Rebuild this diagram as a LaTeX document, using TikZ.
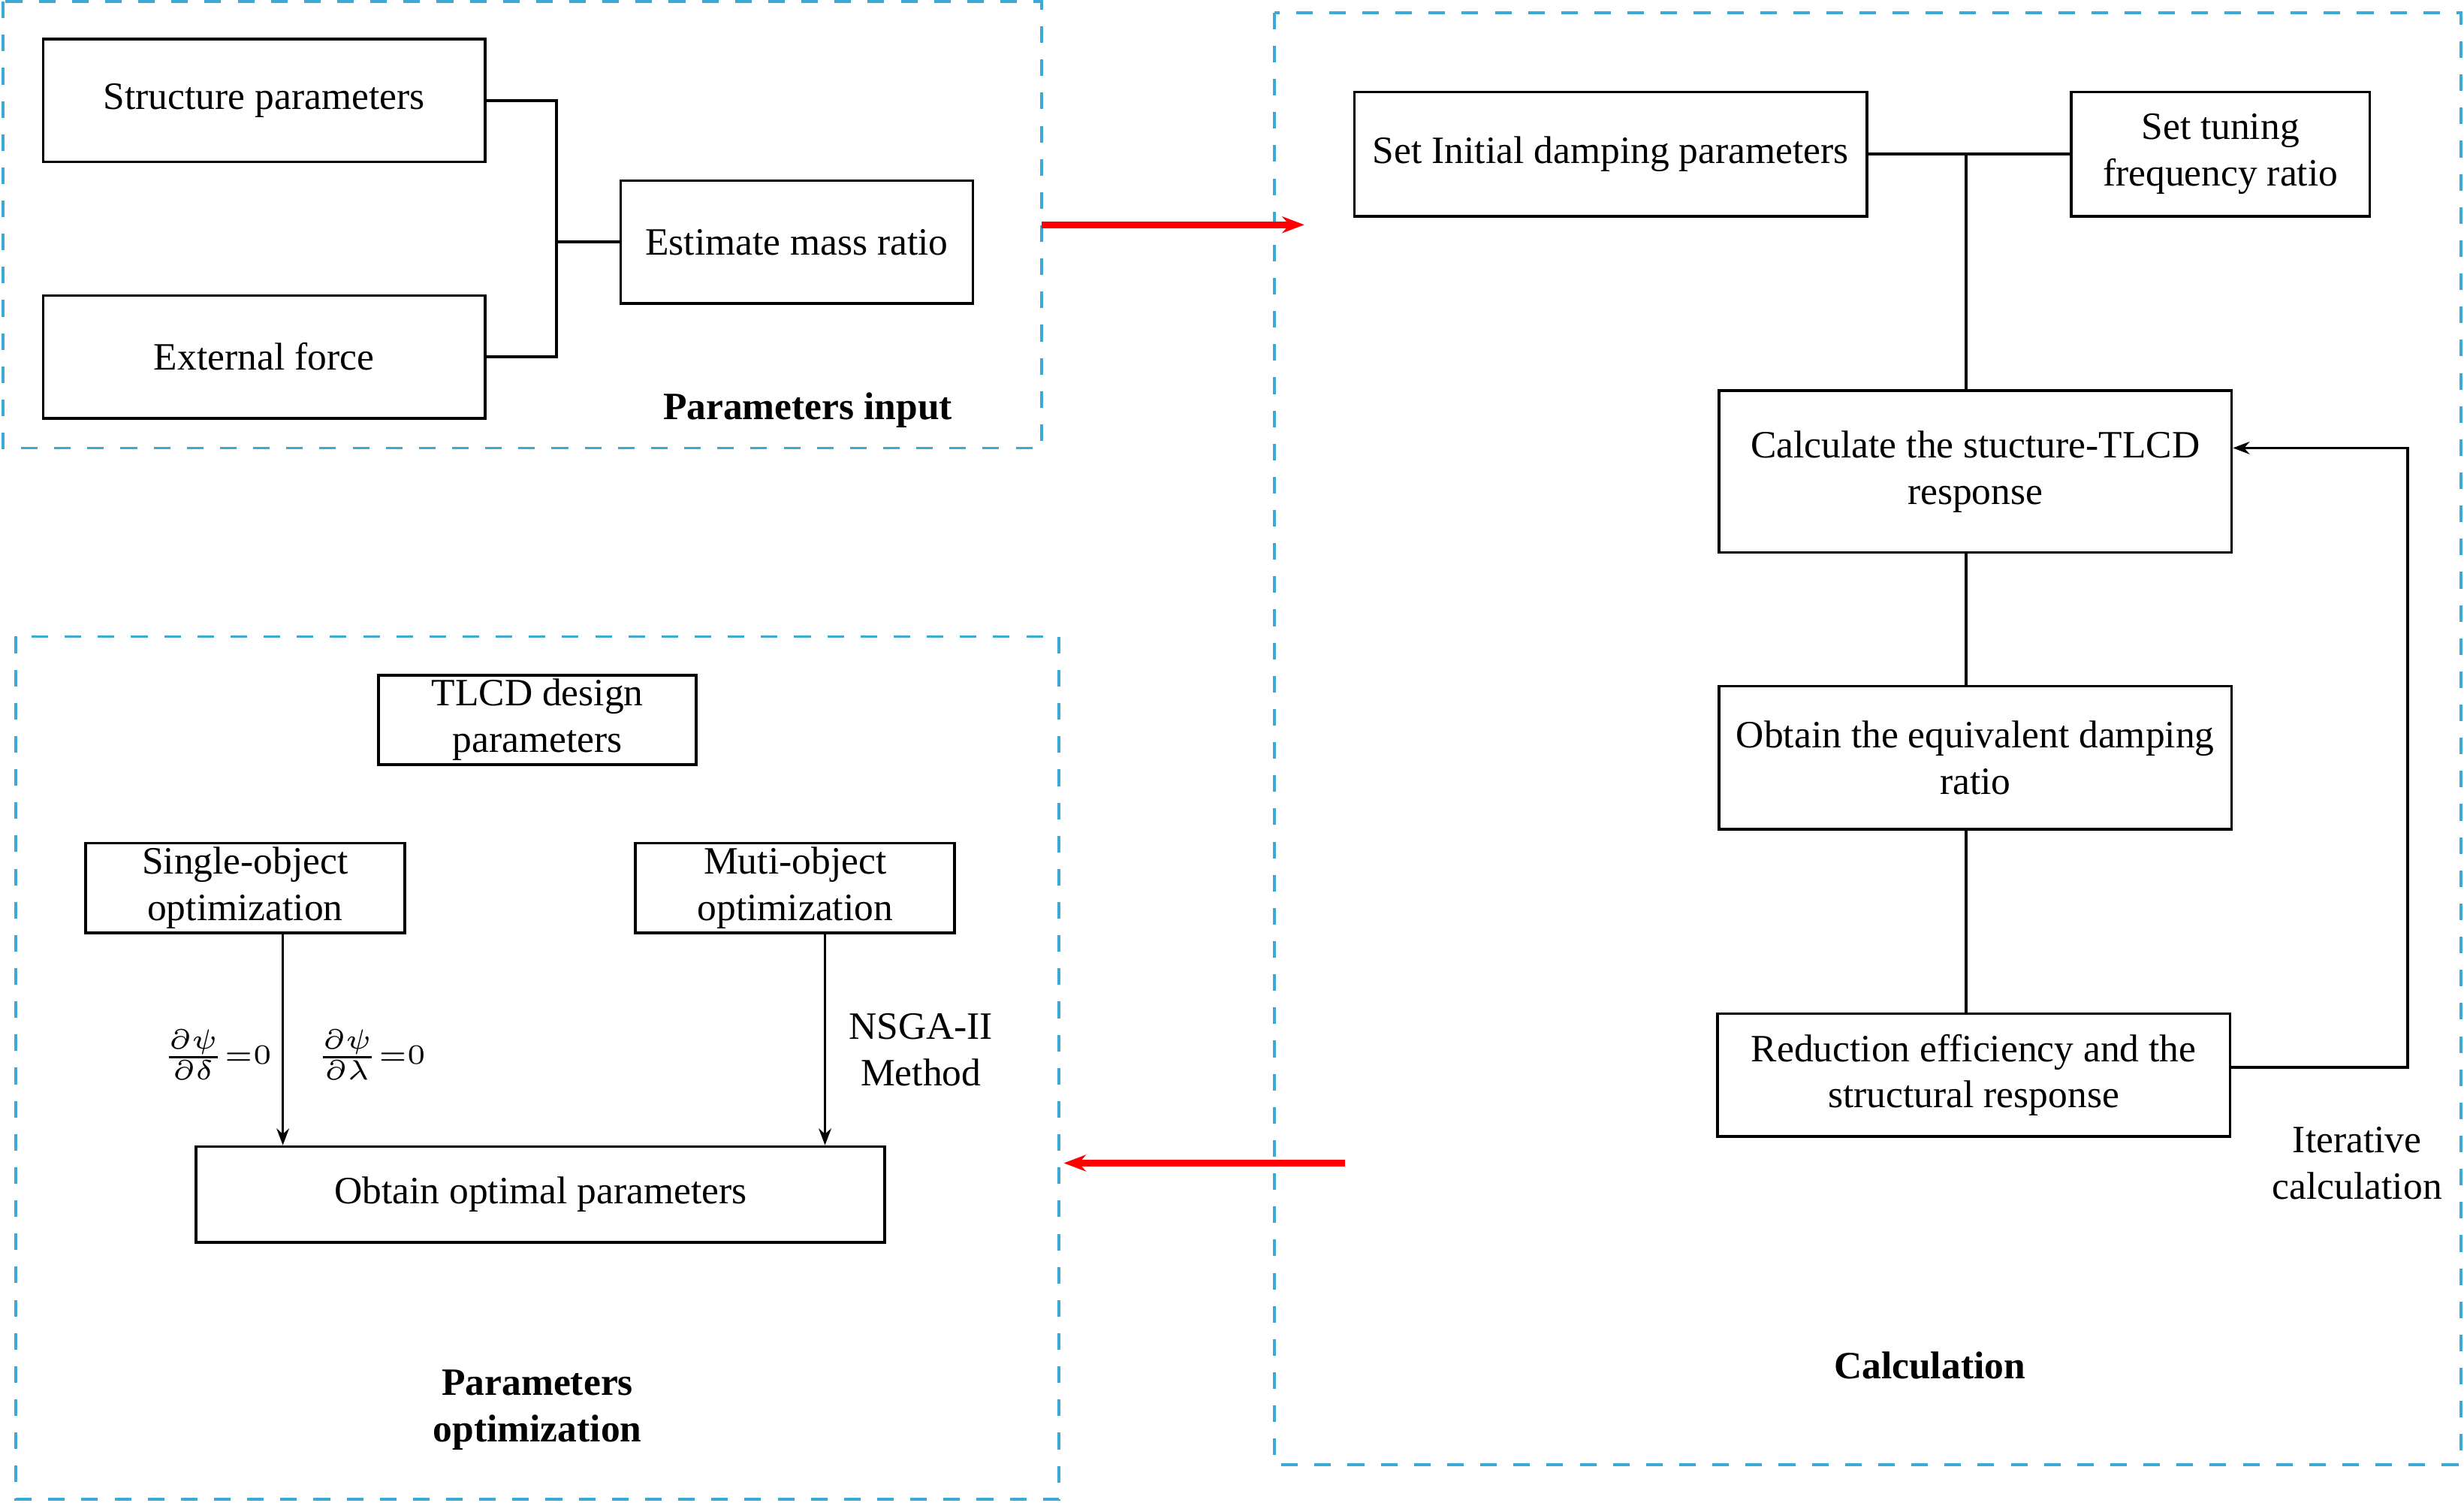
\documentclass[tikz,border=0pt]{standalone}
\usepackage{fontspec}
\setmainfont{Liberation Serif}
\usetikzlibrary{arrows.meta}
\definecolor{frameblue}{RGB}{60,170,215}
\begin{document}
\begin{tikzpicture}[x=0.01cm,y=-0.01cm,font=\fontsize{7}{8.4}\selectfont,
  box/.style={draw,line width=0.5pt,minimum width=#1,inner sep=0pt,align=center},
  frame/.style={draw=frameblue,dashed,line width=0.5pt},
  link/.style={line width=0.5pt},
  redarrow/.style={draw=red,line width=1.2pt,-{Stealth[length=4pt]}},
  title/.style={font=\fontsize{7}{8.4}\selectfont\bfseries,align=center}]
\useasboundingbox (0,0) rectangle (1568,956);
% frames
\draw[frame] (2,1) rectangle (663,285);
\draw[frame] (811,8) rectangle (1566,932);
\draw[frame] (10,405) rectangle (674,954);
\node[title] (tin) at (514,261) {Parameters input};
\node[title] (tcalc) at (1228,869) {Calculation};
\node[title] (topt) at (342,897) {Parameters\\optimization};
% parameters input
\node[box=2.81cm,minimum height=0.78cm] (sp) at (168,64) {Structure parameters};
\node[box=2.81cm,minimum height=0.78cm] (ef) at (168,227) {External force};
\node[box=2.24cm,minimum height=0.78cm] (emr) at (507,154) {Estimate mass ratio};
\coordinate (j1) at (354,154);
\draw[link] (sp.east) -| (j1) |- (ef.east);
\draw[link] (j1) -- (emr.west);
% calculation
\node[box=3.26cm,minimum height=0.79cm] (sid) at (1025,98) {Set Initial damping parameters};
\node[box=1.90cm,minimum height=0.79cm] (stf) at (1413,98) {Set tuning\\frequency ratio};
\node[box=3.26cm,minimum height=1.03cm] (csr) at (1257,300) {Calculate the stucture-TLCD\\response};
\node[box=3.26cm,minimum height=0.91cm] (oed) at (1257,482) {Obtain the equivalent damping\\ratio};
\node[box=3.26cm,minimum height=0.78cm] (res) at (1256,684) {Reduction efficiency and the\\structural response};
\coordinate (j2) at (1251,98);
\draw[link] (sid.east) -- (stf.west);
\draw[link] (j2) -- (csr.north -| j2);
\draw[link] (csr.south -| j2) -- (oed.north -| j2);
\draw[link] (oed.south -| j2) -- (res.north -| j2);
\coordinate (loop) at (1532,679);
\draw[link,-{Stealth[length=3pt]}] (res.east |- loop) -- (loop) |- (csr.east |- 0,285);
\node[align=center] (iter) at (1500,740) {Iterative\\calculation};
% arrows between frames
\coordinate (a1) at (663,143);
\coordinate (a2) at (830,143);
\coordinate (b1) at (856,740);
\coordinate (b2) at (677,740);
\draw[redarrow] (a1) -- (a2);
\draw[redarrow] (b1) -- (b2);
% optimization
\node[box=2.02cm,minimum height=0.57cm] (tdp) at (342,458) {TLCD design\\parameters};
\node[box=2.03cm,minimum height=0.57cm] (soo) at (156,565) {Single-object\\optimization};
\node[box=2.03cm,minimum height=0.57cm] (moo) at (506,565) {Muti-object\\optimization};
\node[box=4.38cm,minimum height=0.61cm] (oop) at (344,760) {Obtain optimal parameters};
\draw[link,-{Stealth[length=3pt]}] (soo.south -| 180,0) -- (oop.north -| 180,0);
\draw[link,-{Stealth[length=3pt]}] (moo.south -| 525,0) -- (oop.north -| 525,0);
\node (d1) at (138,671) {$\scriptscriptstyle\frac{\partial\psi}{\partial\delta}=0$};
\node (d2) at (236,671) {$\scriptscriptstyle\frac{\partial\psi}{\partial\lambda}=0$};
\node[align=center] (nsga) at (586,668) {NSGA-II\\Method};
\end{tikzpicture}
\end{document}
